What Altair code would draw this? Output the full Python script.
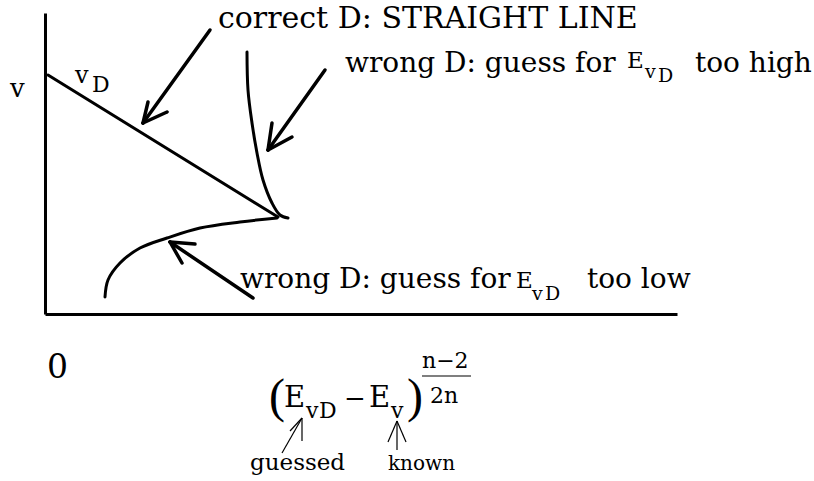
import altair as alt
import pandas as pd

# ---- diagram geometry (diagram units: origin at the axes corner, y up) ----
X_MAX = 632
Y_MAX = 301

# curves: the correct straight line and the two wrong-guess curves
straight_x = [3, 233]
straight_y = [239, 97]
high_x = [202, 203, 207, 212, 218, 227, 235, 243]
high_y = [262, 224, 191, 161, 134, 111, 99, 96]
low_x = [60, 63, 75, 95, 122, 155, 195, 232]
low_y = [17, 34, 51, 66, 76, 86, 92, 96]

# thick pointer arrows: tail, tip and the two barb ends
arrow_tail_x = [165, 280, 208]
arrow_tail_y = [284, 244, 16]
arrow_tip_x = [98, 223, 125]
arrow_tip_y = [191, 164, 72]
barb1_x = [122, 247, 150]
barb1_y = [202, 177, 70]
barb2_x = [103, 227, 137]
barb2_y = [212, 191, 51]

# thin arrows under the formula ("guessed", "known")
thin_tail_x = [237, 352]
thin_tail_y = [-139, -136]
thin_tip_x = [257, 352]
thin_tip_y = [-104, -107]
thin_barb1_x = [245, 343]
thin_barb1_y = [-117, -128]
thin_barb2_x = [257, 361]
thin_barb2_y = [-127, -128]

# fraction bar of the exponent
frac_x = [377, 426]
frac_y = [-62, -62]

# text pieces: string, left x, baseline y, font size
label_text = [
    "correct D: STRAIGHT LINE",
    "wrong D: guess for", "E", "v", "D", "too high",
    "wrong D: guess for", "E", "v", "D", "too low",
    "v",
    "v", "D",
    "0",
    "E", "v", "D", "\u2212", "E", "v",
    "n\u22122", "2n",
    "guessed", "known",
]
label_x = [
    173,
    300, 582, 600, 613, 650,
    195, 471, 487, 500, 542,
    -35,
    30, 47,
    2,
    239, 261, 274, 299, 324, 346,
    377, 385,
    205, 343,
]
label_y = [
    286,
    242, 246, 236, 232, 242,
    26, 26, 14, 14, 26,
    217,
    231, 222,
    -64,
    -93, -104, -104, -93, -93, -104,
    -54, -89,
    -156, -156,
]
label_size = [
    30,
    28, 23, 19, 19, 28,
    28, 23, 19, 19, 28,
    26,
    24, 22,
    33,
    29, 22, 22, 26, 29, 22,
    22, 22,
    23, 20,
]

# tall brackets around the formula base
paren_text = ["(", ")"]
paren_x = [224, 362]
paren_y = [-98, -98]
paren_size = [48, 48]

FONT = "DejaVu Serif"
PAREN_FONT = "Liberation Serif"

# ---- tables ----
curve_rows = []
for name, xs, ys in [("straight", straight_x, straight_y),
                     ("high", high_x, high_y),
                     ("low", low_x, low_y)]:
    for i, (x, y) in enumerate(zip(xs, ys)):
        curve_rows.append({"series": name, "order": i, "x": x, "y": y})
curves = pd.DataFrame(curve_rows)

def segments(tx, ty, px, py, b1x, b1y, b2x, b2y):
    rows = []
    for i in range(len(tx)):
        rows.append({"x": tx[i], "y": ty[i], "x2": px[i], "y2": py[i]})
        rows.append({"x": px[i], "y": py[i], "x2": b1x[i], "y2": b1y[i]})
        rows.append({"x": px[i], "y": py[i], "x2": b2x[i], "y2": b2y[i]})
    return pd.DataFrame(rows)

thick = segments(arrow_tail_x, arrow_tail_y, arrow_tip_x, arrow_tip_y,
                 barb1_x, barb1_y, barb2_x, barb2_y)
thin = segments(thin_tail_x, thin_tail_y, thin_tip_x, thin_tip_y,
                thin_barb1_x, thin_barb1_y, thin_barb2_x, thin_barb2_y)
thin = pd.concat([thin, pd.DataFrame([{"x": frac_x[0], "y": frac_y[0],
                                       "x2": frac_x[1], "y2": frac_y[1]}])],
                 ignore_index=True)

labels = pd.DataFrame({"text": label_text, "x": label_x, "y": label_y,
                       "size": label_size})
parens = pd.DataFrame({"text": paren_text, "x": paren_x, "y": paren_y,
                       "size": paren_size})

axis = alt.Axis(title=None, labels=False, ticks=False, grid=False,
                domain=True, domainColor="black", domainWidth=3)
xs = alt.Scale(domain=[0, X_MAX], nice=False, zero=False)
ys = alt.Scale(domain=[0, Y_MAX], nice=False, zero=False)

def X(field="x"):
    return alt.X(f"{field}:Q", scale=xs, axis=axis)

def Y(field="y"):
    return alt.Y(f"{field}:Q", scale=ys, axis=axis)

curve_layer = alt.Chart(curves).mark_line(
    color="black", strokeWidth=3, interpolate="catmull-rom", strokeCap="round"
).encode(x=X(), y=Y(), detail="series:N", order="order:Q")

thick_layer = alt.Chart(thick).mark_rule(
    color="black", strokeWidth=3.5, strokeCap="round"
).encode(x=X(), y=Y(), x2="x2:Q", y2="y2:Q")

thin_layer = alt.Chart(thin).mark_rule(
    color="black", strokeWidth=1.2
).encode(x=X(), y=Y(), x2="x2:Q", y2="y2:Q")

text_layer = alt.Chart(labels).mark_text(
    font=FONT, align="left", baseline="alphabetic", color="black"
).encode(x=X(), y=Y(), text="text:N", size=alt.Size("size:Q", scale=None))

paren_layer = alt.Chart(parens).mark_text(
    font=PAREN_FONT, align="left", baseline="alphabetic", color="black"
).encode(x=X(), y=Y(), text="text:N", size=alt.Size("size:Q", scale=None))

chart = alt.layer(curve_layer, thick_layer, thin_layer, text_layer,
                  paren_layer).properties(
    width=X_MAX, height=Y_MAX,
    autosize=alt.AutoSizeParams(type="none"),
    padding={"left": 45, "top": 13, "right": 137, "bottom": 167},
    background="white",
).configure_view(stroke=None)

chart.save("out.html", embed_options={"renderer": "svg", "actions": False})
